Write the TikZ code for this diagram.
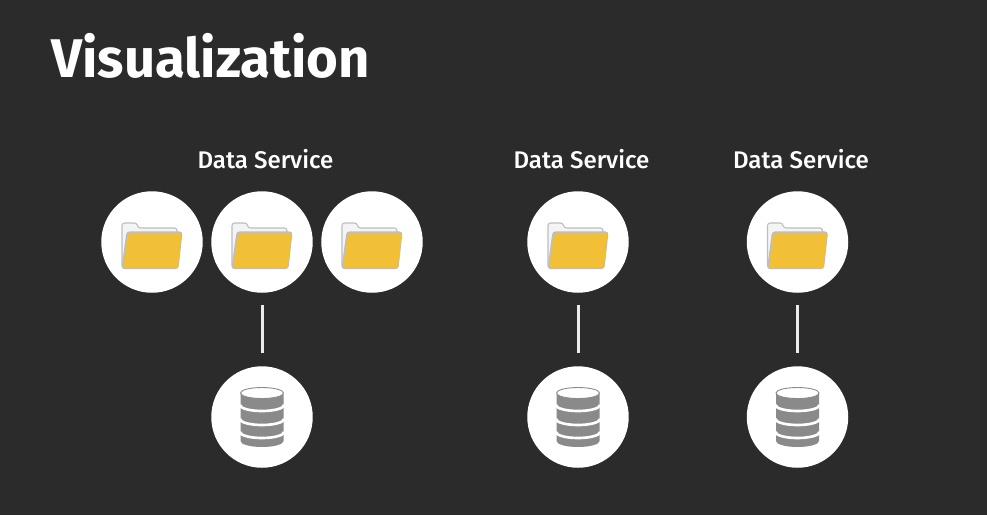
\documentclass[tikz,border=0pt]{standalone}
\usepackage{xcolor}
\usepackage{fontspec}
\setmainfont{Fira Sans}
\newfontfamily\labelfont{Fira Sans Medium}
\usetikzlibrary{positioning,calc}
\definecolor{slide}{HTML}{2B2B2B}
\definecolor{folderback}{HTML}{F4F4F4}
\definecolor{folderedge}{HTML}{BDBDBD}
\definecolor{folderfront}{HTML}{F2C037}
\definecolor{dbgrey}{HTML}{8A8A8A}
\newcommand{\folderdisc}[3]{%
    % #1=name, #2=x, #3=y
    \node[disc] (#1) at (#2,#3) {};
    \draw[draw=folderedge, fill=folderback, line width=0.6pt, rounded corners=0.05cm] (#2-30,#3+26) -- (#2-30,#3-19) -- (#2-15,#3-19) -- (#2-14,#3-14) -- (#2+25,#3-14) -- (#2+25,#3+26) -- cycle;
    \draw[draw=folderedge, fill=folderfront, line width=0.6pt, rounded corners=0.05cm] (#2-25,#3-10) -- (#2+30,#3-10) -- (#2+26,#3+26.5) -- (#2-30,#3+26.5) -- cycle;
}
\newcommand{\dbdisc}[3]{%
    % #1=name, #2=x, #3=y
    \node[disc] (#1) at (#2,#3) {};
    \fill[dbgrey] (#2-21.5,#3-24) -- (#2-21.5,#3+24) arc[start angle=180, end angle=0, x radius=21.5, y radius=6] -- (#2+21.5,#3-24) -- cycle;
    \draw[draw=dbgrey, fill=white, line width=0.5pt] (#2,#3-24) ellipse [x radius=21.5, y radius=5.5];
    \foreach \yb in {-12,2,15} {
        \draw[white, line width=1.5pt] (#2-22,#3+\yb) arc[start angle=180, end angle=0, x radius=22, y radius=6];
    }
}
\begin{document}
\begin{tikzpicture}[x=0.02cm, y=-0.02cm,
    disc/.style={circle, fill=white, draw=none, minimum size=2.03cm, inner sep=0pt},
    servicelabel/.style={text=white, font=\fontsize{13.7}{16}\selectfont\labelfont, anchor=center},
    pagetitle/.style={text=white, font=\fontsize{31}{36}\selectfont\bfseries, anchor=base west, inner sep=0pt},
    link/.style={draw=white!92!black, line width=0.06cm, shorten <=0.24cm, shorten >=0.26cm}
]
    \fill[slide] (0,0) rectangle (987,515);
    \useasboundingbox (0,0) rectangle (987,515);

    \node[pagetitle] (title) at (51,77.5) {Visualization};

    \node[servicelabel] (label1) at (265.5,159) {Data Service};
    \node[servicelabel] (label2) at (581.5,159) {Data Service};
    \node[servicelabel] (label3) at (801,159) {Data Service};

    \folderdisc{folder1}{152}{242}
    \folderdisc{folder2}{262}{242}
    \folderdisc{folder3}{372}{242}
    \folderdisc{folder4}{578}{242}
    \folderdisc{folder5}{797.5}{242}

    \dbdisc{db1}{262}{417}
    \dbdisc{db2}{578}{417}
    \dbdisc{db3}{797.5}{417}

    \draw[link] (folder2) -- (db1);
    \draw[link] (folder4) -- (db2);
    \draw[link] (folder5) -- (db3);
\end{tikzpicture}
\end{document}
